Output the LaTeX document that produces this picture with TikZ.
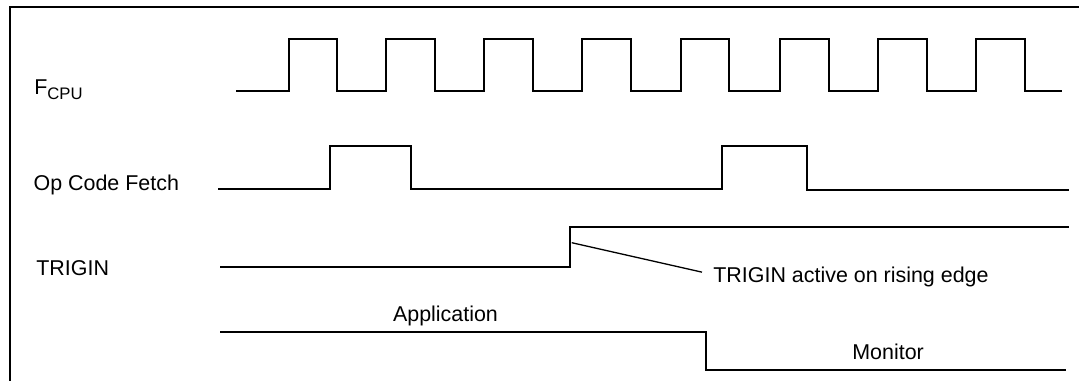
\documentclass[tikz,border=0pt]{standalone}
\usepackage{fontspec}
\setmainfont{Liberation Sans}
\usetikzlibrary{positioning}

\begin{document}
\begin{tikzpicture}[x=0.02cm, y=-0.02cm,
    wave/.style={line width=0.04cm, line join=miter},
    sig/.style={anchor=base west, inner sep=0pt, font=\fontsize{12.2}{14}\selectfont}]
  \useasboundingbox (0,0) rectangle (1079,381);

  % frame
  \draw[line width=0.04cm] (10,381) -- (10,7.3) -- (1079,7.3);

  % signal names
  \node[sig] (fcpu) at (34,95) {F\raisebox{-0.1cm}{\fontsize{9.5}{10}\selectfont CPU}};
  \node[sig] (opfetch) at (33.3,190.7) {Op Code Fetch};
  \node[sig] (trigin) at (36,276) {TRIGIN};

  % clock
  \draw[wave] (236,90.7) -- (288.7,90.7) -- (288.7,39) -- (337,39) -- (337,90.7)
    -- (386,90.7) -- (386,39) -- (435,39) -- (435,90.7)
    -- (484,90.7) -- (484,39) -- (532.5,39) -- (532.5,90.7)
    -- (582,90.7) -- (582,39) -- (631,39) -- (631,90.7)
    -- (681,90.7) -- (681,39) -- (729,39) -- (729,90.7)
    -- (780,90.7) -- (780,39) -- (829,39) -- (829,90.7)
    -- (878,90.7) -- (878,39) -- (927,39) -- (927,90.7)
    -- (976,90.7) -- (976,39) -- (1025,39) -- (1025,90.7) -- (1062,90.7);

  % op code fetch
  \draw[wave] (218,189) -- (330,189) -- (330,146) -- (411,146) -- (411,189)
    -- (722,189) -- (722,146) -- (807,146) -- (807,190) -- (1069,190);

  % TRIGIN
  \draw[wave] (220,267) -- (570,267) -- (570,227.5) -- (1069,227.5);
  \coordinate (edge) at (571.7,242.7);
  \node[sig] (note) at (713,282.7) {TRIGIN active on rising edge};
  \coordinate (noteend) at ([xshift=-0.22cm, yshift=0.1cm]note.west);
  \draw[line width=0.026cm] (edge) -- (noteend);

  % application / monitor
  \draw[wave] (220,332) -- (706,332) -- (706,370) -- (1066,370);
  \node[sig] (app) at (392.7,321.7) {Application};
  \node[sig] (mon) at (852,360) {Monitor};
\end{tikzpicture}
\end{document}
